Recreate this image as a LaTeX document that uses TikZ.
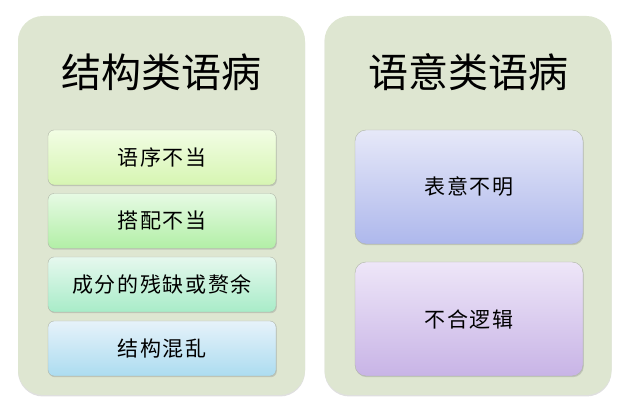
\documentclass[tikz,border=0pt]{standalone}
\usepackage{fontspec}
\newfontfamily\cjk{Noto Sans CJK SC}
\usepackage{xcolor}
\usetikzlibrary{shadows}

\definecolor{panelfill}{HTML}{DEE6D1}
\definecolor{boxedge}{HTML}{B0B6A8}
\definecolor{ordertop}{HTML}{F2FDE4}
\definecolor{orderbot}{HTML}{D6F5B2}
\definecolor{matchtop}{HTML}{E6FAE4}
\definecolor{matchbot}{HTML}{B2EFA6}
\definecolor{partstop}{HTML}{E6F8EE}
\definecolor{partsbot}{HTML}{A8ECC8}
\definecolor{mixedtop}{HTML}{E6F2FA}
\definecolor{mixedbot}{HTML}{ACDCF0}
\definecolor{uncleartop}{HTML}{E6E8F8}
\definecolor{unclearbot}{HTML}{AEB8EC}
\definecolor{illogictop}{HTML}{EEE6F8}
\definecolor{illogicbot}{HTML}{C8B4E6}

\tikzset{
  panel/.style={rounded corners=25pt,fill=panelfill,draw=none,
    minimum width=287pt,minimum height=379pt,
    drop shadow={opacity=0.25,shadow xshift=0pt,shadow yshift=-1.5pt}},
  title/.style={font=\cjk\fontsize{40}{44}\selectfont},
  itembox/.style={rounded corners=6pt,draw=boxedge,line width=0.4pt,
    minimum width=228pt,minimum height=55pt,
    font=\cjk\fontsize{21}{24}\selectfont\addfontfeature{LetterSpace=8},
    drop shadow={opacity=0.3,shadow xshift=0.8pt,shadow yshift=-1.2pt}},
  bigbox/.style={itembox,rounded corners=11pt,minimum height=114pt}
}

\begin{document}
\begin{tikzpicture}[x=1pt,y=-1pt]
  \useasboundingbox (0,0) rectangle (638,411);
  % panels
  \node[panel] (struct) at (161.5,205.5) {};
  \node[panel] (sense) at (468,205.5) {};
  \node[title] (structtitle) at (161.5,72) {结构类语病};
  \node[title] (sensetitle) at (468,72) {语意类语病};
  % structural errors
  \node[itembox,top color=ordertop,bottom color=orderbot] (order) at (162,157.5) {语序不当};
  \node[itembox,top color=matchtop,bottom color=matchbot] (match) at (162,221) {搭配不当};
  \node[itembox,top color=partstop,bottom color=partsbot] (parts) at (162,284.5) {成分的残缺或赘余};
  \node[itembox,top color=mixedtop,bottom color=mixedbot] (mixed) at (162,348.5) {结构混乱};
  % semantic errors
  \node[bigbox,top color=uncleartop,bottom color=unclearbot] (unclear) at (469,187) {表意不明};
  \node[bigbox,top color=illogictop,bottom color=illogicbot] (illogic) at (469,319) {不合逻辑};
\end{tikzpicture}
\end{document}
